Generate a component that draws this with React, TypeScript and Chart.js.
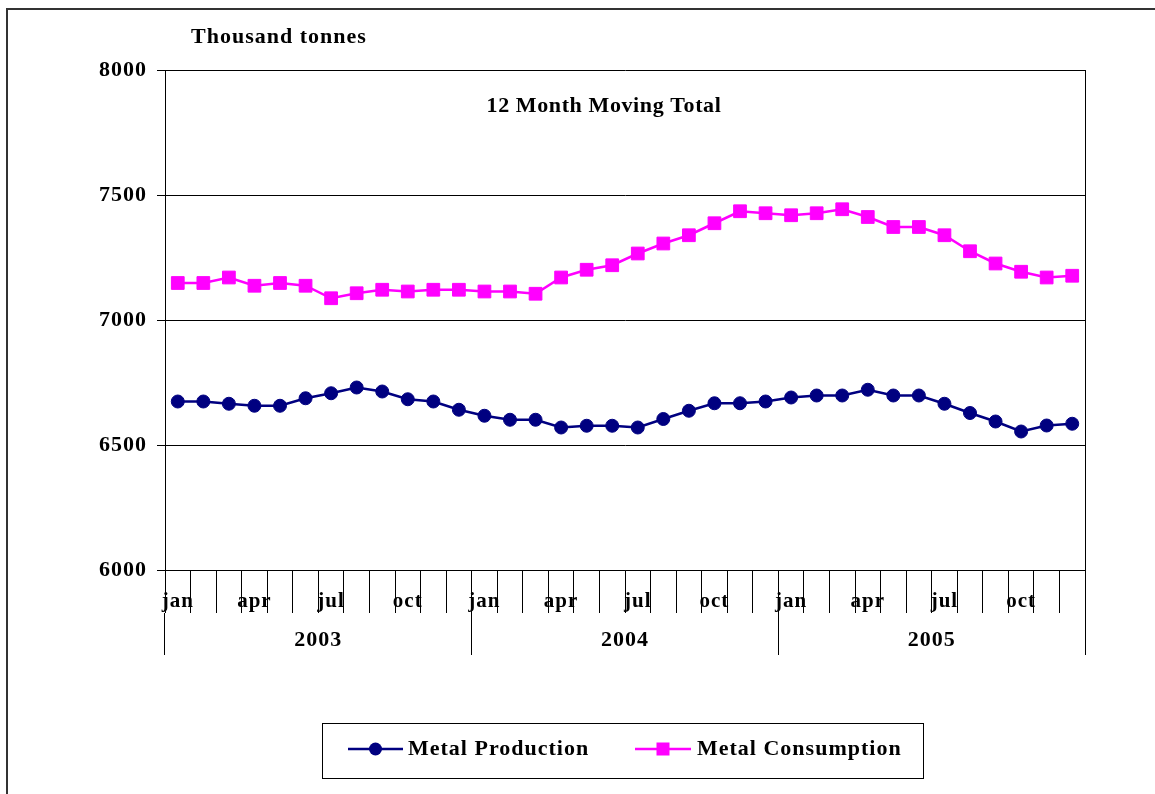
import React, { useEffect, useRef } from 'react';
import { Chart, registerables } from 'chart.js';

Chart.register(...registerables);

const monthNames = ['jan', 'feb', 'mar', 'apr', 'may', 'jun', 'jul', 'aug', 'sep', 'oct', 'nov', 'dec'];
const monthLabels = [...monthNames, ...monthNames, ...monthNames];
const yearLabels = ['2003', '2004', '2005'];

const production = [
  6674, 6674, 6665, 6657, 6657, 6687, 6707, 6730, 6714, 6683, 6674, 6641,
  6617, 6601, 6601, 6570, 6577, 6577, 6570, 6604, 6637, 6667, 6667, 6674,
  6690, 6698, 6698, 6721, 6698, 6698, 6665, 6628, 6594, 6554, 6578, 6585,
];
const consumption = [
  7148, 7148, 7170, 7137, 7148, 7137, 7087, 7107, 7121, 7114, 7121, 7121,
  7114, 7114, 7105, 7170, 7201, 7219, 7266, 7306, 7339, 7387, 7435, 7427,
  7419, 7427, 7443, 7412, 7372, 7372, 7339, 7275, 7226, 7193, 7170, 7177,
];
const seriesNames = ['Metal Production', 'Metal Consumption'];
const unitLabel = 'Thousand tonnes';
const chartSubtitle = '12 Month Moving Total';

const FONT = "'Liberation Serif', 'Times New Roman', serif";
const NAVY = '#000080';
const MAGENTA = '#FF00FF';

const decorPlugin = {
  id: 'decor',
  beforeDraw(chart: any) {
    const ctx = chart.ctx as any;
    ctx.letterSpacing = '1px';
  },
  beforeDatasetsDraw(chart: any) {
    const { ctx, chartArea: a } = chart;
    ctx.save();
    ctx.strokeStyle = '#000';
    ctx.lineWidth = 1;
    ctx.beginPath();
    ctx.moveTo(Math.round(a.right) + 0.5, a.top);
    ctx.lineTo(Math.round(a.right) + 0.5, a.bottom);
    ctx.stroke();
    ctx.restore();
  },
  afterDraw(chart: any) {
    const ctx = chart.ctx as any;
    ctx.save();
    ctx.letterSpacing = '1px';
    // outer frame
    ctx.strokeStyle = '#333';
    ctx.lineWidth = 2;
    ctx.beginPath();
    ctx.moveTo(7, 800);
    ctx.lineTo(7, 9);
    ctx.lineTo(1160, 9);
    ctx.stroke();

    // texts
    ctx.fillStyle = '#000';
    ctx.font = `bold 22px ${FONT}`;
    ctx.textBaseline = 'middle';
    ctx.textAlign = 'left';
    ctx.fillText(unitLabel, 191, 37);
    ctx.letterSpacing = '0.6px';
    ctx.textAlign = 'center';
    ctx.fillText(chartSubtitle, 604, 106);
    ctx.letterSpacing = '1px';

    // legend box
    ctx.strokeStyle = '#000';
    ctx.lineWidth = 1;
    ctx.strokeRect(322.5, 723.5, 601, 55);
    const ds = chart.data.datasets;
    const items = [
      { x0: 348, x1: 403, tx: 408 },
      { x0: 635, x1: 691, tx: 697 },
    ];
    const ly = 749;
    items.forEach((it, i) => {
      const d = ds[i];
      ctx.strokeStyle = d.borderColor;
      ctx.lineWidth = 2.5;
      ctx.beginPath();
      ctx.moveTo(it.x0, ly);
      ctx.lineTo(it.x1, ly);
      ctx.stroke();
      const cx = (it.x0 + it.x1) / 2;
      ctx.fillStyle = d.pointBackgroundColor;
      if (d.pointStyle === 'circle') {
        ctx.beginPath();
        ctx.arc(cx, ly, 6.5, 0, Math.PI * 2);
        ctx.fill();
      } else {
        ctx.fillRect(cx - 6.5, ly - 6.5, 13, 13);
      }
      ctx.fillStyle = '#000';
      ctx.font = `bold 22px ${FONT}`;
      ctx.textAlign = 'left';
      ctx.textBaseline = 'middle';
      ctx.fillText(d.label, it.tx, ly);
    });
    ctx.restore();
  },
};

export default function App() {
  const ref = useRef<HTMLCanvasElement | null>(null);
  useEffect(() => {
    if (!ref.current) return;
    const chart = new Chart(ref.current, {
      type: 'line',
      data: {
        labels: monthLabels,
        datasets: [
          {
            label: seriesNames[0],
            data: production,
            borderColor: NAVY,
            backgroundColor: NAVY,
            pointBackgroundColor: NAVY,
            pointBorderColor: NAVY,
            pointStyle: 'circle',
            pointRadius: 6.5,
            pointBorderWidth: 1,
            borderWidth: 2.5,
            tension: 0,
            xAxisID: 'x',
          },
          {
            label: seriesNames[1],
            data: consumption,
            borderColor: MAGENTA,
            backgroundColor: MAGENTA,
            pointBackgroundColor: MAGENTA,
            pointBorderColor: MAGENTA,
            pointStyle: 'rect',
            pointRadius: 9,
            pointBorderWidth: 1,
            borderWidth: 2.5,
            tension: 0,
            xAxisID: 'x',
          },
        ],
      },
      options: {
        responsive: false,
        animation: false,
        devicePixelRatio: 1,
        layout: { padding: { top: 70, left: 0, right: 70, bottom: 139 } },
        plugins: {
          legend: { display: false },
          tooltip: { enabled: false },
          title: { display: false },
        },
        scales: {
          x: {
            type: 'category',
            position: 'bottom',
            weight: 0,
            offset: true,
            afterFit: (s: any) => { s.height = 43; },
            grid: {
              offset: true,
              drawOnChartArea: false,
              drawTicks: true,
              tickLength: 43,
              color: '#000',
              lineWidth: 1,
            },
            border: { display: true, color: '#000', width: 1 },
            ticks: {
              autoSkip: false,
              maxRotation: 0,
              minRotation: 0,
              padding: -24,
              color: '#000',
              font: { family: FONT, size: 21, weight: 'bold' },
              callback: (_v: any, i: number) => (i % 3 === 0 ? monthLabels[i] : ''),
            },
          },
          x2: {
            type: 'category',
            position: 'bottom',
            weight: 1,
            labels: yearLabels,
            offset: true,
            afterFit: (s: any) => { s.height = 42; },
            grid: {
              offset: true,
              drawOnChartArea: false,
              drawTicks: true,
              tickLength: 42,
              color: '#000',
              lineWidth: 1,
            },
            border: { display: false },
            ticks: {
              autoSkip: false,
              maxRotation: 0,
              minRotation: 0,
              padding: -28,
              color: '#000',
              font: { family: FONT, size: 22, weight: 'bold' },
            },
          },
          y: {
            type: 'linear',
            min: 6000,
            max: 8000,
            afterFit: (s: any) => { s.width = 165; },
            grid: {
              color: '#000',
              lineWidth: 1,
              drawTicks: true,
              tickLength: 8,
            },
            border: { display: true, color: '#000', width: 1 },
            ticks: {
              stepSize: 500,
              padding: 10,
              color: '#000',
              font: { family: FONT, size: 22, weight: 'bold' },
              callback: (v: any) => String(v),
            },
          },
        },
      },
      plugins: [decorPlugin],
    });
    return () => chart.destroy();
  }, []);

  return (
    <div style={{ position: 'absolute', left: 0, top: 0, width: 1155, height: 794, overflow: 'hidden', background: '#fff' }}>
      <canvas ref={ref} width={1155} height={794} style={{ width: 1155, height: 794, display: 'block' }} />
    </div>
  );
}
